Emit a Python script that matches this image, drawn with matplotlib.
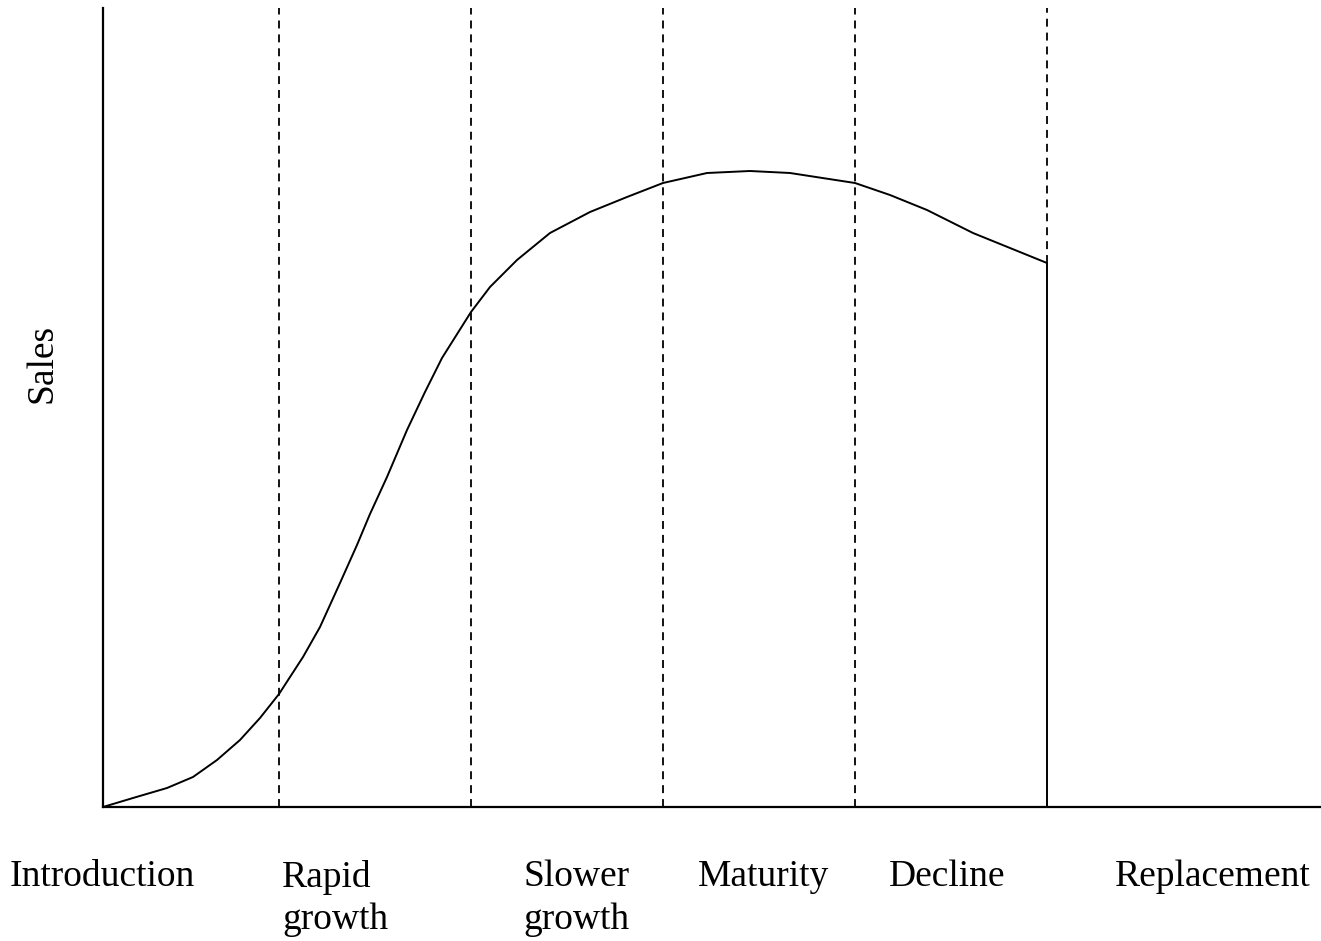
import matplotlib
matplotlib.use("Agg")
import matplotlib.pyplot as plt

plt.rcParams['font.family'] = ['Liberation Serif', 'DejaVu Serif']

# sales curve (time, sales), arbitrary units
time = [0, 30, 64, 90, 114, 137, 157, 176, 200, 217, 237, 254, 267, 284,
        304, 322, 339, 368, 387, 414, 447, 487, 524, 560, 604, 647, 687,
        752, 787, 824, 870, 907, 944, 944]
sales = [0, 9, 19, 30, 47, 67, 89, 113, 150, 180, 224, 262, 293, 330,
         377, 415, 449, 495, 520, 547, 574, 595, 610, 624, 634, 636, 634,
         624, 612, 597, 574, 559, 544, 0]

# stage boundaries (dashed) and stage labels
boundaries = [176, 368, 560, 752, 944]
stages = ["Introduction", "Rapid\ngrowth", "Slower\ngrowth",
          "Maturity", "Decline", "Replacement"]
label_x = [10, 282, 523, 698, 889, 1115]  # left edge, pixels

W, H = 1321, 941
fig = plt.figure(figsize=(W / 100, H / 100), dpi=100)
ax = fig.add_axes([103 / W, 134 / H, 1 - 103 / W, 799 / H])

ax.plot(time, sales, color='black', lw=1.4, solid_joinstyle='round')
for b in boundaries[:-1]:
    ax.axvline(b, color='black', lw=1.3, dashes=(4.4, 3.3))
# last boundary is dashed only above the curve
ax.plot([boundaries[-1], boundaries[-1]], [sales[-2], 799],
        color='black', lw=1.3, dashes=(4.4, 3.3))

ax.set_xlim(0, 1218)
ax.set_ylim(0, 799)
ax.set_xticks([])
ax.set_yticks([])
for s in ['top', 'right']:
    ax.spines[s].set_visible(False)
for s in ['left', 'bottom']:
    ax.spines[s].set_linewidth(1.6)

for name, x in zip(stages, label_x):
    fig.text(x / W, 1 - 860 / H, name, ha='left', va='top', fontsize=27,
             linespacing=1.3)

fig.text(42 / W, 1 - 363 / H, "Sales", rotation=90, ha='center',
         va='center', fontsize=27)

fig.savefig("out.png", dpi=100)
